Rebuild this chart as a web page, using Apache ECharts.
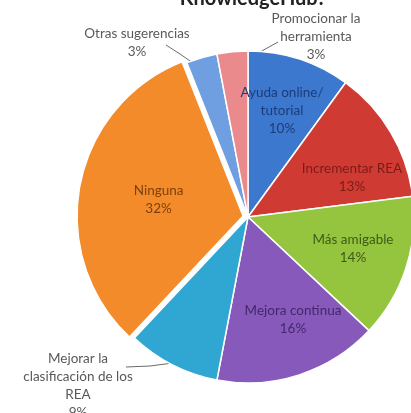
<!DOCTYPE html>
<html>
<head>
<meta charset="utf-8">
<script src="https://cdn.jsdelivr.net/npm/echarts@6/dist/echarts.min.js"></script>
<style>html,body{margin:0;padding:0;background:#fff}#c{width:411px;height:413px}</style>
</head>
<body>
<div id="c"></div>
<script>
const titleText = 'KnowledgeHub?';
const categories = ['Ayuda online/\ntutorial', 'Incrementar REA', 'Más amigable', 'Mejora continua', 'Mejorar la\nclasificación de los\nREA', 'Ninguna', 'Otras sugerencias', 'Promocionar la\nherramienta'];
const values = [10, 13, 14, 16, 9, 32, 3, 3];
const sliceColors = ['#3d78cf', '#cf3a32', '#95c43f', '#8659bb', '#2fa7d2', '#f38b2b', '#6f9fe0', '#ea8a8c'];
const labelColors = ['#1c3c78', '#7c1c18', '#3f5a16', '#45286c', '#595959', '#7d420c', '#595959', '#595959'];
const outsideIdx = [4, 6, 7];

// label placements (pixel centres) and leader lines
const labelPos = {
  0: [282, 111], 1: [352, 178], 2: [353, 249], 3: [293, 320], 5: [152, 210],
  4: [78, 386], 6: [137, 43], 7: [316, 37]
};
const leaderLines = {
  4: [[126, 367], [150, 366], [173, 363]],
  6: [[166, 45], [180, 54], [193, 63]],
  7: [[278, 42], [260, 52], [243, 63]]
};

const chart = echarts.init(document.getElementById('c'), null, {renderer: 'canvas'});
const data = categories.map((name, i) => {
  const out = outsideIdx.includes(i);
  return {
    name: name,
    value: values[i],
    selected: i === 5,
    itemStyle: {color: sliceColors[i]},
    label: {
      position: out ? 'outside' : 'inside',
      color: labelColors[i]
    },
    labelLine: {show: out}
  };
});

chart.setOption({
  animation: false,
  title: {
    text: titleText, left: 248, top: -16, textAlign: 'center',
    textStyle: {fontFamily: 'Lato', fontWeight: 'bold', fontSize: 20, color: '#222'}
  },
  series: [{
    type: 'pie',
    center: [248, 217],
    radius: 166,
    startAngle: 90,
    clockwise: true,
    selectedMode: 'single',
    selectedOffset: 5,
    itemStyle: {borderColor: '#fff', borderWidth: 1.5},
    label: {
      show: true,
      formatter: '{b}\n{d}%',
      fontFamily: 'Lato',
      fontSize: 13.5,
      lineHeight: 18,
      align: 'center',
      overflow: 'none',
      width: 200
    },
    labelLine: {lineStyle: {color: '#6a6a6a', width: 1}},
    labelLayout: function (p) {
      const i = p.dataIndex;
      const pos = labelPos[i];
      const r = {x: pos[0], y: pos[1], align: 'center', verticalAlign: 'middle'};
      if (leaderLines[i]) r.labelLinePoints = leaderLines[i];
      return r;
    },
    data: data
  }]
});
</script>
</body>
</html>
